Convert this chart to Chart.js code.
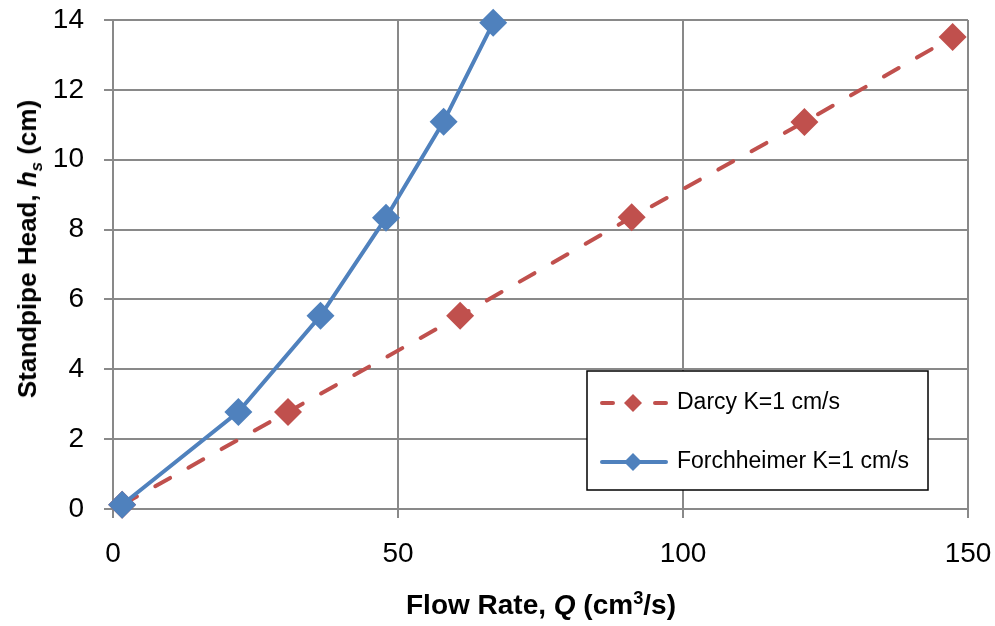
<!DOCTYPE html>
<html>
<head>
<meta charset="utf-8">
<script src="https://cdn.jsdelivr.net/npm/chart.js@4"></script>
<style>
  html, body { margin: 0; padding: 0; background: #fff; }
  #wrap { position: relative; width: 995px; height: 626px; }
  .axis-title {
    position: absolute;
    font-family: 'Liberation Sans', Arial, sans-serif;
    font-weight: bold;
    color: #000;
    white-space: nowrap;
    line-height: 1;
  }
  #xTitle { font-size: 28px; left: 541px; top: 605px; transform: translate(-50%, -50%); }
  #yTitle { font-size: 26px; left: 27px; top: 249px; transform: translate(-50%, -50%) rotate(-90deg); }
  sub, sup { font-size: 65%; line-height: 0; }
</style>
</head>
<body>
<div id="wrap">
  <canvas id="chart" width="995" height="626"></canvas>
  <div class="axis-title" id="xTitle">Flow Rate, <i>Q</i> (cm<sup>3</sup>/s)</div>
  <div class="axis-title" id="yTitle">Standpipe Head, <i>h<sub>s</sub></i> (cm)</div>
</div>
<script>
// values
const flowDarcy = [1.6, 30.7, 60.9, 91.0, 121.3, 147.3];
const headDarcy = [0.12, 2.78, 5.53, 8.35, 11.08, 13.51];
const flowForch = [1.6, 22.0, 36.4, 47.9, 58.0, 66.7];
const headForch = [0.12, 2.78, 5.53, 8.34, 11.09, 13.92];
const seriesNames = ['Darcy K=1 cm/s', 'Forchheimer K=1 cm/s'];

const RED = '#C0504D';
const BLUE = '#4F81BD';
const GRID = '#898989';
const FONT = "'Liberation Sans', Arial, sans-serif";

const toPoints = (xs, ys) => xs.map((x, i) => ({ x, y: ys[i] }));

// legend drawn inside the plot, like the Excel one
const boxLegend = {
    id: 'boxLegend',
    afterDraw(chart) {
        const ctx = chart.ctx;
        const x0 = 587, y0 = 371, x1 = 928, y1 = 490;
        ctx.save();
        ctx.fillStyle = '#fff';
        ctx.fillRect(x0, y0, x1 - x0, y1 - y0);
        ctx.strokeStyle = '#000';
        ctx.lineWidth = 1.5;
        ctx.strokeRect(x0, y0, x1 - x0, y1 - y0);

        const rows = [
            { y: 403, color: RED, dash: true, label: seriesNames[0] },
            { y: 462, color: BLUE, dash: false, label: seriesNames[1] },
        ];
        rows.forEach((r) => {
            ctx.strokeStyle = r.color;
            ctx.fillStyle = r.color;
            ctx.lineWidth = 4;
            ctx.lineCap = 'round';
            ctx.beginPath();
            if (r.dash) {
                ctx.moveTo(602, r.y); ctx.lineTo(613, r.y);
                ctx.moveTo(655, r.y); ctx.lineTo(666, r.y);
            } else {
                ctx.moveTo(602, r.y); ctx.lineTo(666, r.y);
            }
            ctx.stroke();
            const cx = 633, s = 9;
            ctx.beginPath();
            ctx.moveTo(cx, r.y - s);
            ctx.lineTo(cx + s, r.y);
            ctx.lineTo(cx, r.y + s);
            ctx.lineTo(cx - s, r.y);
            ctx.closePath();
            ctx.fill();
            ctx.fillStyle = '#000';
            ctx.font = '23px ' + FONT;
            ctx.textBaseline = 'middle';
            ctx.textAlign = 'left';
            ctx.fillText(r.label, 677, r.y);
        });
        ctx.restore();
    },
};

const gridOpts = { color: GRID, lineWidth: 2, tickLength: 9, tickColor: GRID };

new Chart(document.getElementById('chart'), {
    type: 'scatter',
    data: {
        datasets: [
            {
                label: seriesNames[1],
                data: toPoints(flowForch, headForch),
                showLine: true,
                borderColor: BLUE,
                backgroundColor: BLUE,
                borderWidth: 4,
                pointStyle: 'rectRot',
                pointRadius: 14,
                pointBorderWidth: 0,
                clip: false,
            },
            {
                label: seriesNames[0],
                data: toPoints(flowDarcy, headDarcy),
                showLine: true,
                borderColor: RED,
                backgroundColor: RED,
                borderWidth: 4,
                borderDash: [17, 21],
                borderCapStyle: 'round',
                pointStyle: 'rectRot',
                pointRadius: 14,
                pointBorderWidth: 0,
                clip: false,
            },
        ],
    },
    options: {
        responsive: false,
        animation: false,
        events: [],
        layout: { padding: { left: 0, top: 20, right: 27, bottom: 0 } },
        plugins: { legend: { display: false }, tooltip: { enabled: false } },
        scales: {
            x: {
                type: 'linear',
                min: 0,
                max: 150,
                ticks: { stepSize: 50, color: '#000', font: { family: FONT, size: 28 }, padding: 19 },
                grid: gridOpts,
                border: { color: GRID, width: 2 },
                afterFit: (s) => { s.height = 117; s.paddingLeft = 0; s.paddingRight = 0; },
            },
            y: {
                min: 0,
                max: 14,
                ticks: { stepSize: 2, color: '#000', font: { family: FONT, size: 28 }, padding: 20 },
                grid: gridOpts,
                border: { color: GRID, width: 2 },
                afterFit: (s) => { s.width = 113; s.paddingTop = 0; s.paddingBottom = 0; },
            },
        },
    },
    plugins: [boxLegend],
});
</script>
</body>
</html>
